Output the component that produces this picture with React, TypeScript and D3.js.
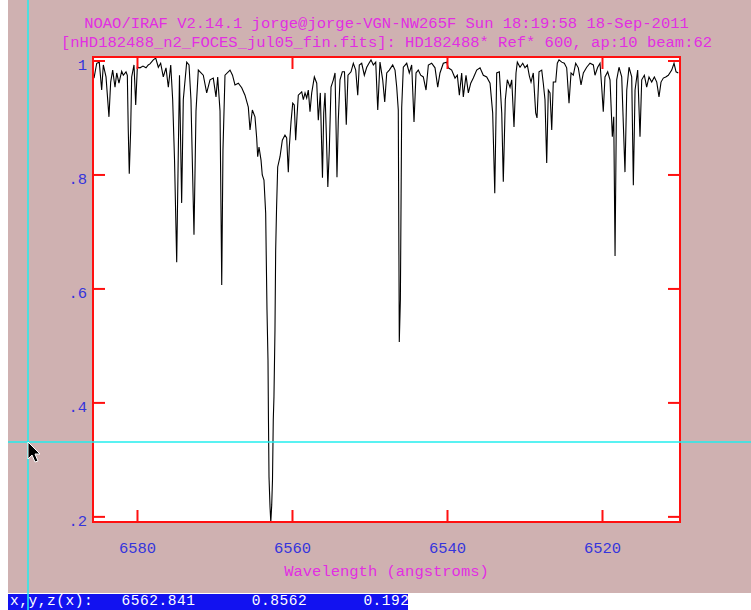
import * as d3 from 'd3';

// spectrum (wavelength in angstroms, normalised flux)
const wavelength = [
  6585.61, 6585.26, 6584.93, 6584.62, 6584.41, 6584.06, 6583.68, 6583.46, 6583.20, 6582.90,
  6582.68, 6582.39, 6582.04, 6581.83, 6581.48, 6581.31, 6581.19, 6581.06, 6580.88, 6580.75,
  6580.45, 6580.23, 6580.02, 6579.68, 6579.29, 6578.90, 6578.61, 6578.39, 6577.96, 6577.65,
  6577.31, 6577.01, 6576.67, 6576.32, 6576.02, 6575.71, 6575.46, 6575.22, 6574.94, 6574.73,
  6574.58, 6574.30, 6574.09, 6573.65, 6573.35, 6573.10, 6572.71, 6572.45, 6572.15, 6571.51,
  6571.07, 6570.64, 6570.22, 6569.87, 6569.65, 6569.35, 6569.13, 6568.97, 6568.71, 6568.06,
  6567.74, 6567.42, 6566.99, 6566.55, 6566.13, 6565.70, 6565.48, 6565.18, 6564.84, 6564.62,
  6564.49, 6564.32, 6564.06, 6563.90, 6563.68, 6563.46, 6563.38, 6563.29, 6563.16, 6563.10,
  6563.03, 6562.90, 6562.80, 6562.68, 6562.58, 6562.48, 6562.39, 6562.26, 6562.17, 6562.06,
  6561.91, 6561.61, 6561.31, 6560.97, 6560.75, 6560.54, 6560.41, 6560.19, 6559.97, 6559.77,
  6559.59, 6559.42, 6559.25, 6558.81, 6558.60, 6558.38, 6558.17, 6557.96, 6557.74, 6557.52,
  6557.18, 6556.87, 6556.67, 6556.41, 6556.13, 6555.97, 6555.80, 6555.64, 6555.44, 6555.25,
  6555.03, 6554.73, 6554.51, 6554.26, 6554.09, 6553.87, 6553.57, 6553.29, 6553.06, 6552.84,
  6552.45, 6552.15, 6551.84, 6551.58, 6551.38, 6551.07, 6550.73, 6550.42, 6550.13, 6549.87,
  6549.57, 6549.26, 6549.00, 6548.71, 6548.36, 6548.10, 6547.84, 6547.51, 6547.07, 6546.77,
  6546.55, 6546.35, 6546.22, 6546.08, 6545.91, 6545.70, 6545.26, 6544.93, 6544.62, 6544.32,
  6544.06, 6543.77, 6543.46, 6543.12, 6542.77, 6542.47, 6542.04, 6541.61, 6541.26, 6540.97,
  6540.54, 6540.10, 6539.90, 6539.46, 6539.03, 6538.73, 6538.47, 6538.17, 6537.96, 6537.61,
  6537.31, 6537.00, 6536.67, 6536.23, 6535.80, 6535.38, 6534.94, 6534.51, 6534.17, 6533.90,
  6533.65, 6533.31, 6533.00, 6532.80, 6532.54, 6532.28, 6531.93, 6531.71, 6531.42, 6531.16,
  6530.99, 6530.64, 6530.29, 6530.00, 6529.70, 6529.44, 6529.22, 6528.93, 6528.62, 6528.45,
  6528.19, 6527.84, 6527.64, 6527.42, 6527.20, 6526.99, 6526.77, 6526.55, 6526.35, 6526.04,
  6525.83, 6525.61, 6525.26, 6524.93, 6524.62, 6524.32, 6524.06, 6523.77, 6523.46, 6523.12,
  6522.77, 6522.47, 6522.04, 6521.61, 6521.18, 6520.97, 6520.62, 6520.32, 6520.10, 6519.90,
  6519.68, 6519.33, 6519.03, 6518.73, 6518.55, 6518.38, 6518.17, 6517.87, 6517.52, 6517.10,
  6516.87, 6516.58, 6516.23, 6516.02, 6515.80, 6515.46, 6515.16, 6514.94, 6514.60, 6514.30,
  6514.00, 6513.65, 6513.31, 6513.00, 6512.71, 6512.45, 6512.15, 6511.84, 6511.51, 6511.07,
  6510.77, 6510.51, 6510.22,
];

const flux = [
  0.970, 0.996, 0.998, 0.949, 0.993, 0.972, 0.902, 0.963, 0.984, 0.954,
  0.979, 0.961, 0.982, 0.975, 0.981, 0.975, 0.879, 0.802, 0.879, 0.972,
  0.993, 0.923, 0.989, 0.988, 0.991, 0.988, 0.993, 0.995, 1.002, 1.005,
  0.989, 0.996, 0.972, 0.988, 0.954, 0.993, 0.932, 0.826, 0.647, 0.844,
  0.975, 0.751, 0.932, 0.998, 0.993, 0.932, 0.695, 0.912, 0.984, 0.975,
  0.944, 0.967, 0.970, 0.937, 0.972, 0.912, 0.607, 0.844, 0.975, 0.984,
  0.975, 0.958, 0.961, 0.953, 0.940, 0.919, 0.879, 0.914, 0.902, 0.865,
  0.832, 0.849, 0.826, 0.800, 0.791, 0.733, 0.651, 0.563, 0.475, 0.370,
  0.270, 0.218, 0.191, 0.221, 0.265, 0.370, 0.411, 0.528, 0.668, 0.739,
  0.814, 0.832, 0.861, 0.870, 0.865, 0.805, 0.849, 0.893, 0.926, 0.923,
  0.861, 0.902, 0.940, 0.946, 0.932, 0.944, 0.935, 0.949, 0.911, 0.944,
  0.972, 0.961, 0.896, 0.944, 0.795, 0.909, 0.944, 0.874, 0.779, 0.844,
  0.954, 0.967, 0.979, 0.796, 0.896, 0.967, 0.981, 0.981, 0.888, 0.975,
  0.981, 0.996, 0.984, 0.940, 0.993, 0.996, 0.975, 0.989, 0.996, 1.002,
  0.993, 0.998, 0.914, 0.998, 0.967, 0.928, 0.979, 0.984, 0.993, 0.984,
  0.954, 0.914, 0.507, 0.581, 0.918, 0.989, 0.996, 0.979, 0.993, 0.893,
  0.979, 0.984, 0.975, 0.972, 0.949, 0.993, 0.996, 0.988, 0.954, 0.979,
  0.996, 0.998, 0.988, 0.984, 0.970, 0.975, 0.940, 0.979, 0.937, 0.975,
  0.944, 0.961, 0.970, 0.984, 0.988, 0.975, 0.972, 0.961, 0.909, 0.768,
  0.979, 0.981, 0.909, 0.788, 0.932, 0.967, 0.954, 0.967, 0.884, 0.979,
  0.998, 0.989, 0.996, 0.988, 0.993, 0.974, 0.963, 0.979, 0.909, 0.900,
  0.981, 0.984, 0.961, 0.932, 0.821, 0.949, 0.944, 0.879, 0.963, 0.963,
  0.996, 1.002, 0.998, 0.996, 0.988, 0.926, 0.979, 0.975, 0.996, 0.988,
  0.958, 0.979, 0.989, 0.996, 0.993, 0.975, 0.989, 0.996, 0.954, 0.911,
  0.972, 0.981, 0.967, 0.867, 0.902, 0.658, 0.967, 0.989, 0.972, 0.805,
  0.949, 0.989, 0.972, 0.782, 0.949, 0.984, 0.867, 0.967, 0.975, 0.954,
  0.972, 0.963, 0.972, 0.963, 0.937, 0.963, 0.970, 0.972, 0.975, 0.984,
  0.996, 0.981, 0.979,
];

const xTicks = [6580, 6560, 6540, 6520];
const yTicks = [1, 0.8, 0.6, 0.4, 0.2];
const yTickLabels = ['1', '.8', '.6', '.4', '.2'];

const titleLines = [
  'NOAO/IRAF V2.14.1 jorge@jorge-VGN-NW265F Sun 18:19:58 18-Sep-2011',
  '[nHD182488_n2_FOCES_jul05_fin.fits]: HD182488* Ref* 600, ap:10 beam:62',
];
const xLabel = 'Wavelength (angstroms)';
const statusFields = ['x,y,z(x):', '6562.841', '0.8562', '0.192'];
const statusCols = [0, 12, 26, 38];

const W = 751;
const H = 610;
const frame = { left: 93, right: 680, top: 57, bottom: 522 };
const cursor = { x: 28, y: 442 };

const PINK = '#cfb1b1';
const RED = '#ff1010';
const MAGENTA = '#e22ee2';
const BLUE = '#3535dc';
const CYAN = '#22eeee';
const FONT = '"Liberation Mono", "DejaVu Sans Mono", monospace';
const FS = 15.5;
const CHAR = 9.3;

const App = () => {
  const x = d3.scaleLinear().domain([6585.74, 6510.0]).range([frame.left, frame.right]);
  const y = d3.scaleLinear().domain([0.191, 1.007]).range([frame.bottom, frame.top]);

  const points = wavelength.map((w, i) => [w, flux[i]] as [number, number]);
  const line = d3.line<[number, number]>()
    .x(d => x(d[0]))
    .y(d => y(d[1]));

  const cx = (frame.left + frame.right) / 2;
  const tick = 12;

  return (
    <svg width={W} height={H} style={{ position: 'absolute', left: 0, top: 0 }}
      fontFamily={FONT} fontSize={FS}>
      <rect x={0} y={0} width={W} height={H} fill="#ffffff" />
      <rect x={8} y={0} width={W - 8} height={593} fill={PINK} />

      {titleLines.map((t, i) => (
        <text key={t} x={cx} y={28 + i * 19} fill={MAGENTA} textAnchor="middle">{t}</text>
      ))}

      <defs>
        <clipPath id="plotClip">
          <rect x={frame.left} y={frame.top} width={frame.right - frame.left} height={frame.bottom - frame.top} />
        </clipPath>
      </defs>
      <rect x={frame.left} y={frame.top} width={frame.right - frame.left}
        height={frame.bottom - frame.top} fill="#ffffff" />
      <path d={line(points) || ''} fill="none" stroke="#000" strokeWidth={1.1}
        clipPath="url(#plotClip)" />

      <g stroke={RED} strokeWidth={2}>
        <rect x={frame.left} y={frame.top} width={frame.right - frame.left}
          height={frame.bottom - frame.top} fill="none" />
        {xTicks.map(t => (
          <g key={t}>
            <line x1={x(t)} x2={x(t)} y1={frame.bottom} y2={frame.bottom - tick} />
            <line x1={x(t)} x2={x(t)} y1={frame.top} y2={frame.top + tick} />
          </g>
        ))}
        {yTicks.map(t => (
          <g key={t}>
            <line x1={frame.left} x2={frame.left + tick} y1={y(t)} y2={y(t)} />
            <line x1={frame.right} x2={frame.right - tick} y1={y(t)} y2={y(t)} />
          </g>
        ))}
      </g>

      {xTicks.map(t => (
        <text key={t} x={x(t)} y={553} fill={BLUE} textAnchor="middle">{t}</text>
      ))}
      {yTicks.map((t, i) => (
        <text key={t} x={87} y={y(t) + 9} fill={BLUE} textAnchor="end">{yTickLabels[i]}</text>
      ))}
      <text x={cx} y={576} fill={MAGENTA} textAnchor="middle">{xLabel}</text>

      <rect x={8} y={594} width={400} height={16} fill="#1212f0" />
      {statusFields.map((s, i) => (
        <text key={s} x={10 + statusCols[i] * CHAR} y={605} fontSize={14.5}
          textLength={s.length * CHAR - 1} lengthAdjust="spacing" fill="#ffffff">{s}</text>
      ))}

      <line x1={cursor.x} x2={cursor.x} y1={0} y2={H} stroke={CYAN} strokeWidth={1.5} />
      <line x1={8} x2={W} y1={cursor.y} y2={cursor.y} stroke={CYAN} strokeWidth={1.5} />
      <path transform={`translate(${cursor.x},${cursor.y})`}
        d="M0,0 L0,17 L4,13 L7,20 L10,19 L7,12 L12,12 Z"
        fill="#000" stroke="#fff" strokeWidth={1} />
    </svg>
  );
};

export default App;
